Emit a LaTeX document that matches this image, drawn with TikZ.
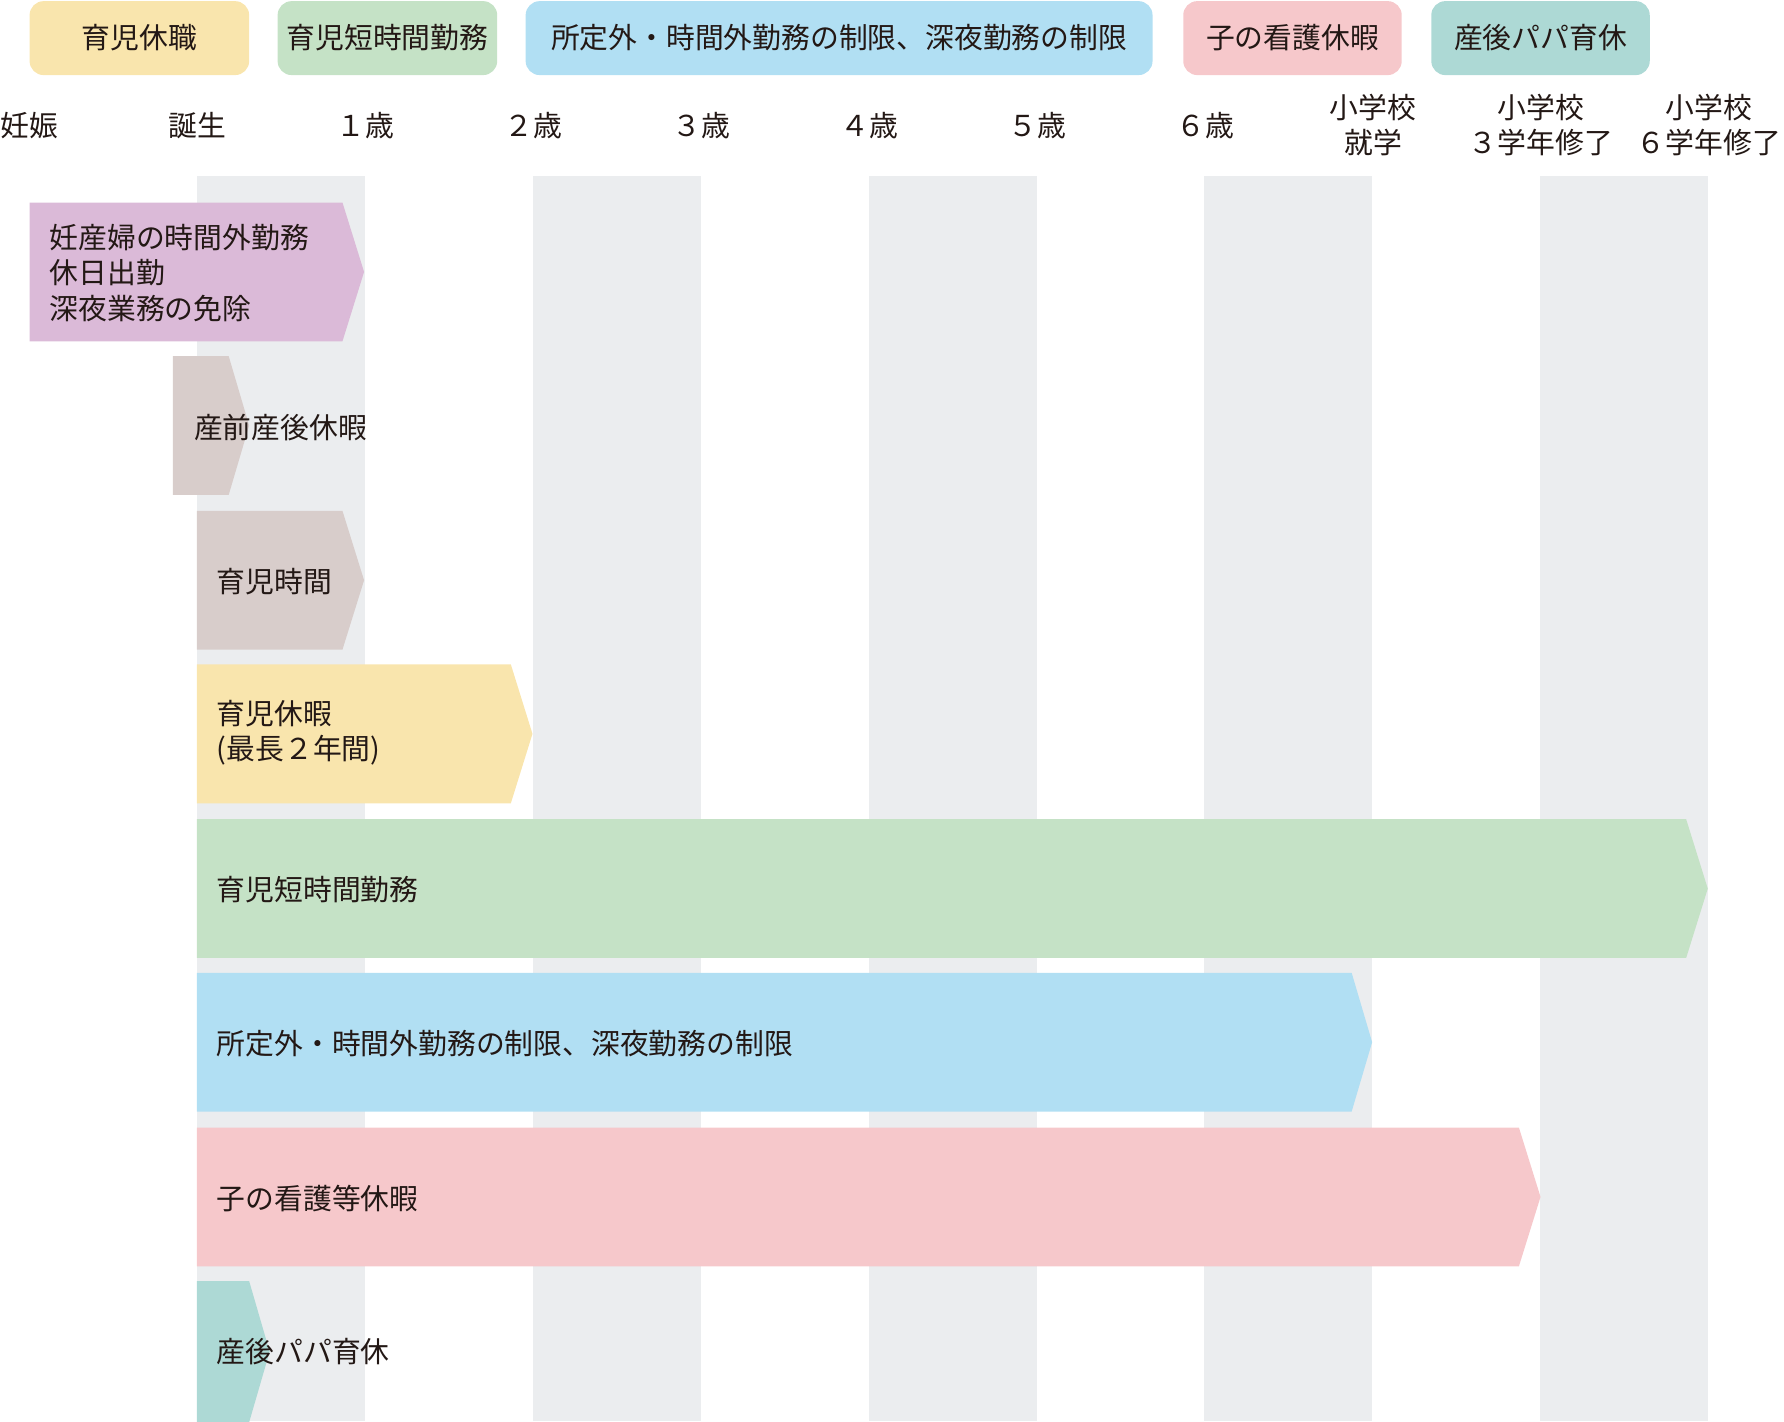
\documentclass[tikz,border=0pt]{standalone}
\usepackage{fontspec}
\setmainfont{Noto Sans CJK JP}
\usetikzlibrary{positioning}
\definecolor{ink}{HTML}{231815}
\definecolor{stripe}{HTML}{EBEDEF}
\definecolor{kyushoku}{HTML}{F9E5AD}
\definecolor{tanjikan}{HTML}{C5E2C6}
\definecolor{seigen}{HTML}{B1DFF3}
\definecolor{kango}{HTML}{F6C8CB}
\definecolor{papa}{HTML}{ADD9D5}
\definecolor{ninsan}{HTML}{DBBAD8}
\definecolor{sanzen}{HTML}{D8CDCB}

\begin{document}
\begin{tikzpicture}[x=0.01138cm,y=-0.01138cm,font=\fontsize{8.2}{10}\selectfont,
  lbl/.style={inner sep=0pt,text=ink,align=center},
  barlbl/.style={inner sep=0pt,text=ink,anchor=west,align=left},
  legbox/.style={rounded corners=4pt}]
  \useasboundingbox (0,0) rectangle (1568,1249);
  % ---------------- grey columns, one year wide
  \foreach \k in {0,2,4,6,8}
    \fill[stripe] ({173+147.6*\k},155) rectangle ({173+147.6*(\k+1)},1249);
  % ---------------- legend
  \fill[kyushoku,legbox] (26,1) rectangle (219,66);
  \node[lbl] (leg1) at (122.5,33) {育児休職};
  \fill[tanjikan,legbox] (244,1) rectangle (437,66);
  \node[lbl] (leg2) at (340.5,33) {育児短時間勤務};
  \fill[seigen,legbox] (462,1) rectangle (1013,66);
  \node[lbl] (leg3) at (737.5,33) {所定外・時間外勤務の制限、深夜勤務の制限};
  \fill[kango,legbox] (1040,1) rectangle (1232,66);
  \node[lbl] (leg4) at (1136,33) {子の看護休暇};
  \fill[papa,legbox] (1258,1) rectangle (1450,66);
  \node[lbl] (leg5) at (1354,33) {産後パパ育休};
  % ---------------- time axis
  \foreach \t [count=\i from 0] in {妊娠,誕生,１歳,２歳,３歳,４歳,５歳,６歳,
      {小学校\\就学},{小学校\\３学年修了},{小学校\\６学年修了}}
    \node[lbl] (age\i) at ({26+147.6*\i},110) {\t};
  % ---------------- bars
  \fill[ninsan] (26,178) -- (301,178) -- (320,239) -- (301,300) -- (26,300) -- cycle;
  \node[barlbl] (ninsanlbl) at (43,240) {妊産婦の時間外勤務\\休日出勤\\深夜業務の免除};
  \fill[sanzen] (152,313) -- (201,313) -- (219,374) -- (201,435) -- (152,435) -- cycle;
  \node[barlbl] (sanzenlbl) at (170,376) {産前産後休暇};
  \fill[sanzen] (173,449) -- (301,449) -- (320,510) -- (301,571) -- (173,571) -- cycle;
  \node[barlbl] (jikanlbl) at (190,511) {育児時間};
  \fill[kyushoku] (173,584) -- (449,584) -- (468,645) -- (449,706) -- (173,706) -- cycle;
  \node[barlbl] (kyukalbl) at (190,644) {育児休暇\\(最長２年間)};
  \fill[tanjikan] (173,720) -- (1482,720) -- (1501,781) -- (1482,842) -- (173,842) -- cycle;
  \node[barlbl] (tanjikanlbl) at (190,782) {育児短時間勤務};
  \fill[seigen] (173,855) -- (1188,855) -- (1206,916) -- (1188,977) -- (173,977) -- cycle;
  \node[barlbl] (seigenlbl) at (190,917) {所定外・時間外勤務の制限、深夜勤務の制限};
  \fill[kango] (173,991) -- (1335,991) -- (1354,1052) -- (1335,1113) -- (173,1113) -- cycle;
  \node[barlbl] (kangolbl) at (190,1053) {子の看護等休暇};
  \fill[papa] (173,1126) -- (219,1126) -- (237,1188) -- (219,1250) -- (173,1250) -- cycle;
  \node[barlbl] (papalbl) at (190,1188) {産後パパ育休};
\end{tikzpicture}
\end{document}
